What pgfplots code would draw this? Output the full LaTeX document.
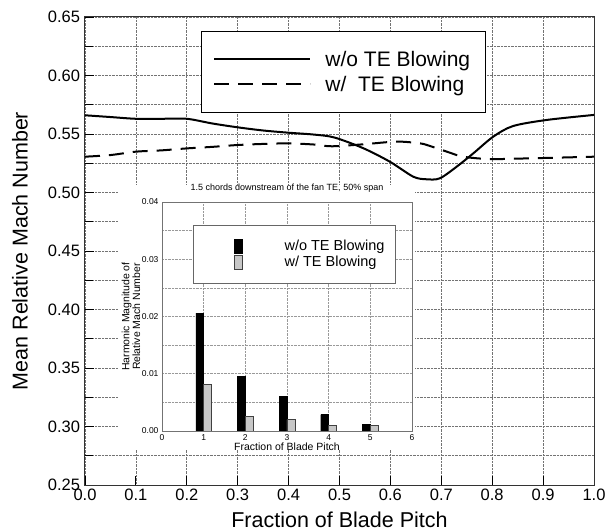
\documentclass[border=0pt]{standalone}
\usepackage{pgfplots}
\pgfplotsset{compat=1.18}
\usepackage{fontspec}
\setmainfont{Liberation Sans}
\pgfplotsset{barlegend/.style={legend image code/.code={\path[draw=none,fill=none] (0pt,0pt) -- (80pt,0pt); \draw[##1] (32pt,-7pt) rectangle (40pt,7pt);}}}
\begin{document}
\begin{tikzpicture}[x=1pt,y=1pt]
\useasboundingbox (0,0) rectangle (606,531);
\begin{axis}[
  at={(85pt,46pt)}, anchor=south west,
  width=509pt, height=468pt, scale only axis,
  xmin=0, xmax=1, ymin=0.25, ymax=0.65,
  xtick={0,0.1,0.2,0.3,0.4,0.5,0.6,0.7,0.8,0.9,1.0},
  ytick={0.25,0.30,0.35,0.40,0.45,0.50,0.55,0.60,0.65},
  minor ytick={0.275,0.325,0.375,0.425,0.475,0.525,0.575,0.625},
  grid=both,
  major grid style={densely dotted, black!55, line width=0.6pt},
  minor grid style={densely dotted, black!55, line width=0.6pt},
  tick pos=left, tick align=inside,
  major tick length=9pt, minor tick length=8pt,
  tick style={black, line width=0.8pt},
  axis line style={line width=1pt, black!80},
  /pgf/number format/assume math mode=true,
  ticklabel style={font=\fontsize{16.5}{18}\selectfont},
  yticklabel style={/pgf/number format/fixed, /pgf/number format/fixed zerofill, /pgf/number format/precision=2, xshift=-1.5pt},
  xticklabel style={/pgf/number format/fixed, /pgf/number format/fixed zerofill, /pgf/number format/precision=1},
  xlabel={Fraction of Blade Pitch},
  ylabel={Mean Relative Mach Number},
  xlabel style={font=\fontsize{21.5}{23}\selectfont, at={(axis description cs:0.5,-0.091)}, anchor=base},
  ylabel style={font=\fontsize{21.5}{23}\selectfont, at={(axis description cs:-0.1277,0.5)}, anchor=center},
  legend image code/.code={\draw[#1] (0pt,0pt) -- (96pt,0pt); \path[draw=none] (0pt,0pt) -- (108pt,0pt);},
  legend style={at={(0.228,0.9707)}, anchor=north west, draw=black, line width=0.8pt,
    font=\fontsize{21}{22}\selectfont, inner xsep=12pt, inner ysep=17pt, row sep=2pt,
    nodes={inner sep=3pt}},
  legend cell align=left,
]
\addplot[black, line width=2pt, smooth, tension=0.5] coordinates {
(0.00,0.566) (0.05,0.5645) (0.10,0.563) (0.15,0.563) (0.20,0.563) (0.25,0.559)
(0.30,0.5557) (0.35,0.553) (0.40,0.5511) (0.45,0.5495) (0.49,0.5470)
(0.547,0.5378) (0.599,0.5263) (0.645,0.5135) (0.671,0.5113) (0.697,0.5121)
(0.730,0.522) (0.763,0.5335) (0.802,0.5477) (0.841,0.5568) (0.907,0.562) (1.0,0.5663)};
\addlegendentry{w/o TE Blowing}
\addplot[black, line width=2pt, dash pattern=on 15pt off 9pt, smooth, tension=0.5] coordinates {
(0.00,0.5306) (0.05,0.532) (0.10,0.5349) (0.15,0.536) (0.20,0.5377) (0.25,0.539)
(0.30,0.5406) (0.35,0.5415) (0.40,0.542) (0.45,0.541) (0.485,0.5395) (0.547,0.5412)
(0.612,0.5435) (0.658,0.542) (0.678,0.5397) (0.711,0.5349) (0.743,0.5306)
(0.796,0.5286) (0.874,0.5292) (1.0,0.5306)};
\addlegendentry{w/\ \ TE Blowing}
\end{axis}
\fill[white] (118,81) rectangle (415,346);
\begin{axis}[
  at={(162pt,100pt)}, anchor=south west,
  width=250pt, height=229pt, scale only axis,
  xmin=0, xmax=6, ymin=0, ymax=0.04,
  xtick={0,1,2,3,4,5,6},
  ytick={0,0.01,0.02,0.03,0.04},
  minor ytick={0.005,0.015,0.025,0.035},
  scaled y ticks=false,
  grid=both,
  major grid style={densely dotted, black!40, line width=0.5pt},
  minor grid style={densely dotted, black!40, line width=0.5pt},
  major tick length=0pt, minor tick length=0pt,
  axis line style={black!55, line width=0.7pt},
  /pgf/number format/assume math mode=true,
  ticklabel style={font=\fontsize{8.5}{9}\selectfont},
  yticklabel style={/pgf/number format/fixed, /pgf/number format/fixed zerofill, /pgf/number format/precision=2},
  title={1.5 chords downstream of the fan TE, 50\% span},
  title style={font=\fontsize{9}{10}\selectfont, at={(axis description cs:0.5,1.0262)}, anchor=base},
  xlabel={Fraction of Blade Pitch},
  ylabel={Harmonic Magnitude of\\Relative Mach Number},
  xlabel style={font=\fontsize{10.5}{11}\selectfont, at={(axis description cs:0.5,-0.083)}, anchor=base},
  ylabel style={font=\fontsize{10.5}{9}\selectfont, align=center, at={(axis description cs:-0.124,0.5)}, anchor=center},
  legend style={at={(0.125,0.8996)}, anchor=north west, draw=black!60, line width=0.6pt,
    font=\fontsize{14.5}{15}\selectfont, inner xsep=9pt, inner ysep=13pt, row sep=0pt,
    nodes={inner sep=2pt}},
  legend cell align=left,
]
\addplot[ybar, bar width=0.19, bar shift=-0.095, fill=black, draw=black, barlegend]
  coordinates {(1,0.0206) (2,0.0096) (3,0.00606) (4,0.00285) (5,0.00122)};
\addlegendentry{w/o TE Blowing}
\addplot[ybar, bar width=0.19, bar shift=0.095, fill=black!22, draw=black!75, line width=0.7pt, barlegend]
  coordinates {(1,0.00815) (2,0.00256) (3,0.00198) (4,0.00093) (5,0.00099)};
\addlegendentry{w/ TE Blowing}
\end{axis}
\end{tikzpicture}
\end{document}
